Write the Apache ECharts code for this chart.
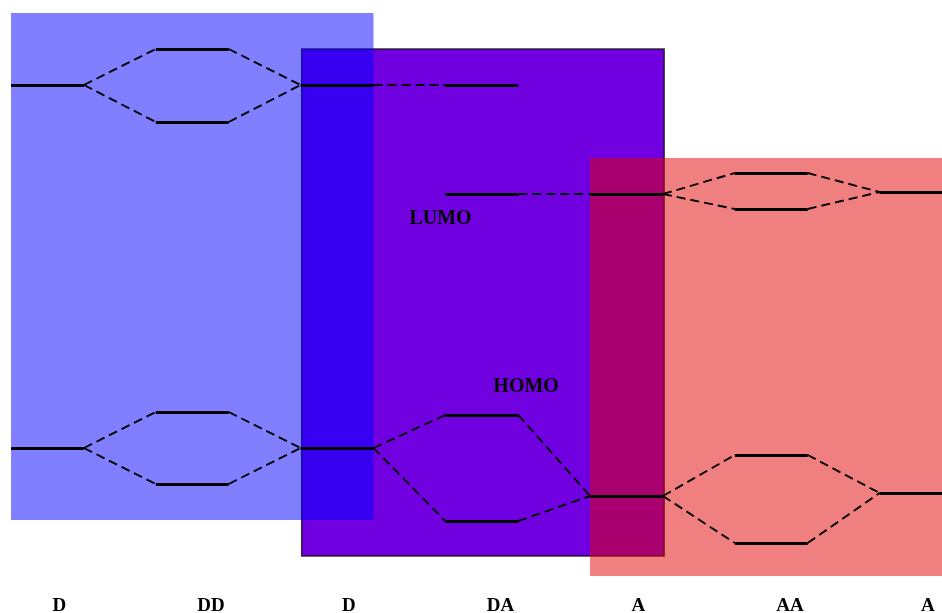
<!DOCTYPE html>
<html>
<head>
<meta charset="utf-8">
<script src="https://cdn.jsdelivr.net/npm/echarts@6/dist/echarts.min.js"></script>
<style>
html,body{margin:0;padding:0;background:#fff;}
#chart{width:942px;height:613px;}
</style>
</head>
<body>
<div id="chart"></div>
<script>
// Column labels (fragments / dimers)
const categories = ['D', 'DD', 'D', 'DA', 'A', 'AA', 'A'];
// LUMO energies per column (arbitrary eV-like units)
const lumoLevels = [[-2.35], [-1.99, -2.72], [-2.35], [-2.35, -3.44], [-3.44], [-3.23, -3.59], [-3.42]];
// HOMO energies per column
const homoLevels = [[-5.98], [-5.62, -6.34], [-5.98], [-5.65, -6.71], [-6.46], [-6.05, -6.93], [-6.43]];
// correlation links: [leftColumn, leftLevel, rightColumn, rightLevel]
const lumoLinks = [[0,0,1,0],[0,0,1,1],[1,0,2,0],[1,1,2,0],[2,0,3,0],[3,1,4,0],[4,0,5,0],[4,0,5,1],[5,0,6,0],[5,1,6,0]];
const homoLinks = [[0,0,1,0],[0,0,1,1],[1,0,2,0],[1,1,2,0],[2,0,3,0],[2,0,3,1],[3,0,4,0],[3,1,4,0],[4,0,5,0],[4,0,5,1],[5,0,6,0],[5,1,6,0]];
// shaded boxes: column span and energy span
const boxFromCol = [0, 2, 4];
const boxToCol = [2, 4, 6];
const boxTop = [-1.63, -1.99, -3.08];
const boxBottom = [-6.70, -7.06, -7.26];
// annotation labels
const noteTexts = ['LUMO', 'HOMO'];
const noteX = [2.50, 3.08];
const noteY = [-3.69, -5.37];

const HW = 0.252; // half width of a level line (in column units)
const boxFill = ['rgba(0,0,255,0.5)', '#7000e0', 'rgba(225,0,0,0.5)'];
const boxStroke = [null, 'rgba(20,20,20,0.85)', null];
const boxPadL = [0, 0.008, 0];
const boxPadR = [0, 0.008, 0];
const drawOrder = [1, 0, 2];

function levelLines(levels) {
  const out = [];
  levels.forEach((col, c) => col.forEach(e => out.push({coords: [[c - HW, e], [c + HW, e]]})));
  return out;
}
function linkLines(levels, links) {
  return links.map(l => ({coords: [[l[0] + HW, levels[l[0]][l[1]]], [l[2] - HW, levels[l[2]][l[3]]]]}));
}

const boxData = drawOrder.map(i => [boxFromCol[i] - HW + boxPadL[i], boxToCol[i] + HW + boxPadR[i], boxTop[i], boxBottom[i], i]);

const chart = echarts.init(document.getElementById('chart'), null, {renderer: 'canvas'});
chart.setOption({
  animation: false,
  backgroundColor: '#fff',
  grid: {left: 0, right: 0, top: 0, bottom: 21, containLabel: false, outerBoundsMode: 'none'},
  xAxis: {
    type: 'value', min: -0.3282, max: 6.1796,
    axisLine: {show: false}, axisTick: {show: false}, splitLine: {show: false},
    axisLabel: {
      customValues: [0, 1, 2, 3, 4, 5, 6],
      formatter: v => categories[Math.round(v)],
      align: 'left', margin: 5, padding: [0, 0, 0, 5],
      color: '#000', fontFamily: '"Liberation Serif", serif', fontWeight: 'bold', fontSize: 19
    }
  },
  yAxis: {type: 'value', min: -7.42, max: -1.5, show: false, splitLine: {show: false}},
  series: [
    {
      type: 'custom', silent: true, z: 1,
      data: boxData,
      renderItem: (params, api) => {
        const i = api.value(4);
        const p1 = api.coord([api.value(0), api.value(2)]);
        const p2 = api.coord([api.value(1), api.value(3)]);
        return {
          type: 'rect',
          shape: {x: p1[0], y: p1[1], width: p2[0] - p1[0], height: p2[1] - p1[1]},
          style: {fill: boxFill[i], stroke: boxStroke[i], lineWidth: boxStroke[i] ? 1.5 : 0}
        };
      }
    },
    {
      type: 'lines', coordinateSystem: 'cartesian2d', silent: true, z: 3,
      data: levelLines(lumoLevels).concat(levelLines(homoLevels)),
      lineStyle: {color: '#000', width: 3.2, type: 'solid', opacity: 1}
    },
    {
      type: 'lines', coordinateSystem: 'cartesian2d', silent: true, z: 2,
      data: linkLines(lumoLevels, lumoLinks).concat(linkLines(homoLevels, homoLinks)),
      lineStyle: {color: '#000', width: 1.9, type: [9, 5], opacity: 1}
    },
    {
      type: 'custom', silent: true, z: 4,
      data: noteTexts.map((t, i) => [noteX[i], noteY[i], i]),
      renderItem: (params, api) => {
        const p = api.coord([api.value(0), api.value(1)]);
        return {
          type: 'text',
          style: {
            text: noteTexts[api.value(2)], x: p[0], y: p[1],
            textAlign: 'left', textVerticalAlign: 'middle',
            fill: '#000', font: 'bold 20px "Liberation Serif", serif'
          }
        };
      }
    }
  ]
});
</script>
</body>
</html>
